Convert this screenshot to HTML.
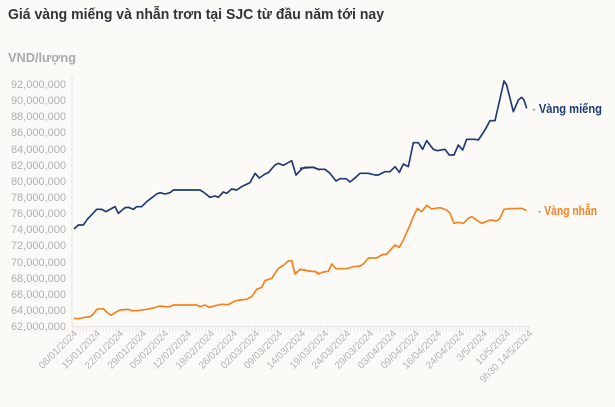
<!DOCTYPE html>
<html><head><meta charset="utf-8"><style>
body{margin:0;background:#fbfaf7;width:615px;height:402px;overflow:hidden;font-family:"Liberation Sans",sans-serif}
</style></head><body>
<svg width="615" height="402" xmlns="http://www.w3.org/2000/svg" font-family="Liberation Sans, sans-serif">
<rect width="615" height="402" fill="#fbfaf7"/>
<text x="8" y="19" font-size="15" font-weight="bold" fill="#333" textLength="376" lengthAdjust="spacingAndGlyphs">Giá vàng miếng và nhẫn trơn tại SJC từ đầu năm tới nay</text>
<text x="8" y="62" font-size="13" font-weight="bold" fill="#aaa" textLength="68" lengthAdjust="spacingAndGlyphs">VND/lượng</text>
<g font-size="11" fill="#b0b0b0" text-anchor="end">
<text x="66" y="88">92,000,000</text><text x="66" y="104">90,000,000</text><text x="66" y="120">88,000,000</text><text x="66" y="136">86,000,000</text><text x="66" y="153">84,000,000</text><text x="66" y="169">82,000,000</text><text x="66" y="185">80,000,000</text><text x="66" y="201">78,000,000</text><text x="66" y="217">76,000,000</text><text x="66" y="233">74,000,000</text><text x="66" y="249">72,000,000</text><text x="66" y="266">70,000,000</text><text x="66" y="282">68,000,000</text><text x="66" y="298">66,000,000</text><text x="66" y="314">64,000,000</text><text x="66" y="330">62,000,000</text>
</g>
<line x1="72" y1="76" x2="72" y2="327" stroke="#e6e6e6"/>
<line x1="72" y1="326.5" x2="530" y2="326.5" stroke="#e6e6e6"/>
<line x1="73" y1="329" x2="530" y2="329" stroke="#e6e6e6" stroke-width="5" stroke-dasharray="1 2.3"/>
<g font-size="10" fill="#b5b5b5" text-anchor="end">
<text transform="translate(78,334) rotate(-45)">08/01/2024</text>
<text transform="translate(101,334) rotate(-45)">15/01/2024</text>
<text transform="translate(124,334) rotate(-45)">22/01/2024</text>
<text transform="translate(147,334) rotate(-45)">29/01/2024</text>
<text transform="translate(169,334) rotate(-45)">05/02/2024</text>
<text transform="translate(192,334) rotate(-45)">12/02/2024</text>
<text transform="translate(215,334) rotate(-45)">19/02/2024</text>
<text transform="translate(238,334) rotate(-45)">26/02/2024</text>
<text transform="translate(260,334) rotate(-45)">02/03/2024</text>
<text transform="translate(283,334) rotate(-45)">09/03/2024</text>
<text transform="translate(306,334) rotate(-45)">14/03/2024</text>
<text transform="translate(329,334) rotate(-45)">19/03/2024</text>
<text transform="translate(351,334) rotate(-45)">24/03/2024</text>
<text transform="translate(374,334) rotate(-45)">29/03/2024</text>
<text transform="translate(397,334) rotate(-45)">03/04/2024</text>
<text transform="translate(420,334) rotate(-45)">09/04/2024</text>
<text transform="translate(442,334) rotate(-45)">16/04/2024</text>
<text transform="translate(465,334) rotate(-45)">24/04/2024</text>
<text transform="translate(488,334) rotate(-45)">3/5/2024</text>
<text transform="translate(511,334) rotate(-45)">10/5/2024</text>
<text transform="translate(533,334) rotate(-45)">9h30 14/5/2024</text>
</g>
<g fill="none" stroke-width="5" stroke-linejoin="round">
<polyline transform="translate(0,60) scale(0.33333)" stroke="#1f3a73" points="222,507 235,495 250,495 262,478 290,448 305,448 318,455 345,440 355,460 375,443 385,442 400,448 410,440 425,440 440,425 470,402 480,398 495,402 510,398 520,390 600,390 610,396 630,412 645,408 655,412 670,396 680,400 695,387 710,390 725,380 750,368 765,340 778,354 795,342 805,338 825,315 835,310 850,316 875,302 888,345 905,327 915,322 940,322 960,330"/>
<polyline transform="translate(300,60) scale(0.33333)" stroke="#1f3a73" points="0,325 40,322 55,328 75,328 90,340 108,363 120,356 138,356 150,366 160,358 180,340 205,340 225,345 235,345 255,335 270,335 285,320 298,337 310,312 325,320 340,248 355,248 368,268 380,242 400,268 412,272 435,268 448,285 462,285 475,255 488,270 500,238 525,238 535,240 555,210 570,182 585,182 612,63 620,75 640,155 655,120 665,112 672,120 680,145"/>
<polyline transform="translate(0,60) scale(0.33333)" stroke="#f7811f" points="222,775 235,776 255,772 270,770 280,762 290,748 300,746 310,746 320,756 330,764 335,765 345,758 360,750 385,748 395,752 410,752 440,748 460,744 480,738 495,740 510,740 520,735 590,735 600,740 615,735 628,742 650,736 665,733 685,734 705,723 720,720 740,718 755,710 770,688 785,682 795,662 815,655 835,625 850,616 865,603 875,602 885,642 900,628 915,630 930,634 945,634 960,642"/>
<polyline transform="translate(300,60) scale(0.33333)" stroke="#f7811f" points="0,628 20,632 45,635 55,642 70,636 85,634 95,612 108,626 140,626 160,620 180,618 190,612 205,594 230,594 245,585 260,582 285,555 298,562 310,540 330,495 340,470 352,445 365,455 380,436 395,447 420,443 440,450 450,460 462,490 475,487 490,490 505,475 515,470 530,480 545,490 570,480 590,483 600,475 612,448 630,446 665,445 680,452"/>
</g>
<text x="532" y="113" font-size="13" font-weight="bold" fill="#1f3a73" textLength="70" lengthAdjust="spacingAndGlyphs"><tspan fill="#aaa">- </tspan>Vàng miếng</text>
<text x="538" y="215" font-size="13" font-weight="bold" fill="#f7811f" textLength="59" lengthAdjust="spacingAndGlyphs"><tspan fill="#aaa">- </tspan>Vàng nhẫn</text>
</svg>
</body></html>
